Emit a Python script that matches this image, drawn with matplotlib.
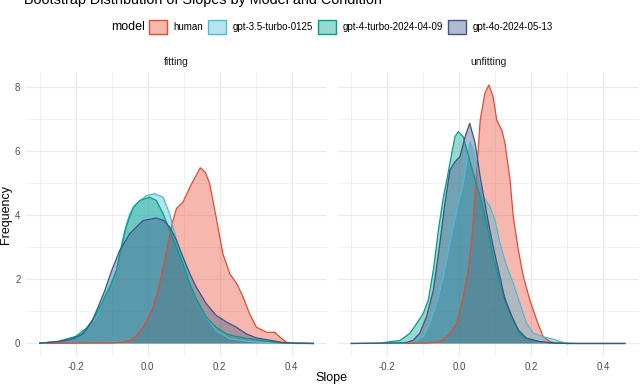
import matplotlib.pyplot as plt
from matplotlib.colors import to_rgb
from matplotlib.patches import Patch

plt.rcParams['font.family'] = ['Liberation Sans Narrow', 'Liberation Sans', 'DejaVu Sans']

models = ["human", "gpt-3.5-turbo-0125", "gpt-4-turbo-2024-04-09", "gpt-4o-2024-05-13"]
colors = ["#E64B35", "#4DBBD5", "#00A087", "#3C5488"]
conditions = ["fitting", "unfitting"]

# density curves (slope, density)
fit_human_x = [-0.28, -0.2, -0.1, -0.08, -0.05, -0.031, -0.013, 0.0, 0.015, 0.029, 0.043, 0.056, 0.07, 0.08,
               0.098, 0.12, 0.146, 0.16, 0.172, 0.19, 0.209, 0.228, 0.248, 0.265, 0.283, 0.302, 0.33, 0.353,
               0.367, 0.385, 0.41, 0.46]
fit_human_y = [0.0, 0.01, 0.02, 0.03, 0.09, 0.25, 0.51, 0.78, 1.13, 1.66, 2.38, 3.1, 3.84, 4.22,
               4.42, 4.95, 5.49, 5.35, 5.0, 3.95, 2.8, 2.18, 1.86, 1.45, 0.93, 0.51, 0.35, 0.35,
               0.2, 0.04, 0.0, 0.0]

fit_gpt35_x = [-0.3, -0.25, -0.2, -0.17, -0.143, -0.115, -0.1, -0.087, -0.078, -0.064, -0.05, -0.031, -0.004,
               0.019, 0.043, 0.061, 0.07, 0.089, 0.107, 0.126, 0.144, 0.163, 0.19, 0.228, 0.256, 0.3, 0.35,
               0.4, 0.46]
fit_gpt35_y = [0.01, 0.06, 0.2, 0.45, 0.82, 1.6, 1.95, 2.28, 2.8, 3.53, 4.05, 4.36, 4.62,
               4.68, 4.57, 4.05, 3.64, 2.9, 2.28, 1.66, 1.24, 0.82, 0.4, 0.15, 0.1, 0.05, 0.02,
               0.01, 0.0]

fit_gpt4t_x = [-0.3, -0.25, -0.2, -0.17, -0.143, -0.115, -0.105, -0.087, -0.073, -0.06, -0.04, -0.022, 0.005,
               0.024, 0.043, 0.061, 0.08, 0.098, 0.117, 0.135, 0.163, 0.19, 0.219, 0.246, 0.283, 0.33, 0.37,
               0.41, 0.46]
fit_gpt4t_y = [0.01, 0.06, 0.22, 0.48, 0.9, 1.55, 1.75, 2.28, 3.0, 3.64, 4.26, 4.47, 4.57,
               4.47, 4.05, 3.53, 3.0, 2.5, 1.87, 1.4, 0.82, 0.51, 0.3, 0.22, 0.15, 0.07, 0.02,
               0.01, 0.0]

fit_gpt4o_x = [-0.3, -0.244, -0.207, -0.18, -0.156, -0.138, -0.119, -0.1, -0.078, -0.05, -0.013, 0.024, 0.045,
               0.061, 0.08, 0.098, 0.117, 0.135, 0.163, 0.19, 0.219, 0.246, 0.274, 0.3, 0.34, 0.376, 0.41, 0.46]
fit_gpt4o_y = [0.01, 0.06, 0.15, 0.3, 0.66, 1.13, 1.66, 2.28, 2.9, 3.43, 3.84, 3.92, 3.84,
               3.64, 3.22, 2.7, 2.18, 1.76, 1.24, 0.88, 0.67, 0.51, 0.3, 0.18, 0.1, 0.03, 0.01, 0.0]

unfit_human_x = [-0.15, -0.08, -0.05, -0.026, -0.007, 0.011, 0.025, 0.035, 0.045, 0.058, 0.071, 0.082, 0.094,
                 0.104, 0.118, 0.127, 0.141, 0.15, 0.164, 0.178, 0.196, 0.215, 0.233, 0.252, 0.27, 0.3]
unfit_human_y = [0.0, 0.02, 0.08, 0.32, 0.63, 1.46, 2.3, 3.3, 4.8, 6.98, 7.82, 8.08, 7.71,
                 6.98, 6.67, 6.26, 5.11, 3.96, 2.92, 2.09, 1.36, 0.73, 0.21, 0.06, 0.01, 0.0]

unfit_gpt35_x = [-0.2, -0.15, -0.12, -0.1, -0.082, -0.063, -0.044, -0.026, -0.007, 0.011, 0.022, 0.03, 0.039,
                 0.053, 0.067, 0.085, 0.099, 0.113, 0.132, 0.15, 0.168, 0.187, 0.206, 0.233, 0.261, 0.289,
                 0.32, 0.46]
unfit_gpt35_y = [0.0, 0.02, 0.08, 0.21, 0.63, 1.26, 2.09, 3.13, 4.17, 5.0, 5.8, 6.3, 6.05,
                 5.32, 4.59, 4.28, 3.86, 3.13, 2.4, 1.88, 1.26, 0.63, 0.32, 0.21, 0.13, 0.03,
                 0.0, 0.0]

unfit_gpt4t_x = [-0.3, -0.22, -0.19, -0.165, -0.137, -0.118, -0.1, -0.086, -0.072, -0.058, -0.044, -0.033,
                 -0.021, -0.012, -0.003, 0.011, 0.021, 0.039, 0.058, 0.076, 0.094, 0.113, 0.132, 0.15, 0.168,
                 0.187, 0.215, 0.25, 0.3, 0.46]
unfit_gpt4t_y = [0.0, 0.01, 0.06, 0.09, 0.32, 0.63, 0.94, 1.36, 2.3, 3.55, 4.59, 5.21,
                 5.94, 6.46, 6.62, 6.46, 6.05, 5.32, 4.59, 3.76, 2.71, 1.88, 1.26, 0.73, 0.32,
                 0.16, 0.06, 0.02, 0.0, 0.0]

unfit_gpt4o_x = [-0.3, -0.15, -0.128, -0.11, -0.091, -0.072, -0.054, -0.04, -0.026, -0.012, 0.002, 0.016,
                 0.029, 0.044, 0.058, 0.076, 0.094, 0.113, 0.127, 0.146, 0.164, 0.187, 0.224, 0.26, 0.3, 0.46]
unfit_gpt4o_y = [0.0, 0.02, 0.1, 0.32, 0.84, 1.67, 3.13, 4.38, 5.42, 5.68, 5.84, 6.46,
                 6.88, 6.26, 5.21, 4.07, 3.03, 2.09, 1.36, 0.84, 0.42, 0.16, 0.06, 0.02, 0.0, 0.0]

curves = {
    "fitting": [(fit_human_x, fit_human_y), (fit_gpt35_x, fit_gpt35_y),
                (fit_gpt4t_x, fit_gpt4t_y), (fit_gpt4o_x, fit_gpt4o_y)],
    "unfitting": [(unfit_human_x, unfit_human_y), (unfit_gpt35_x, unfit_gpt35_y),
                  (unfit_gpt4t_x, unfit_gpt4t_y), (unfit_gpt4o_x, unfit_gpt4o_y)],
}

x_ticks = [-0.2, 0.0, 0.2, 0.4]
x_minor = [-0.3, -0.1, 0.1, 0.3]
y_ticks = [0, 2, 4, 6, 8]
y_minor = [1, 3, 5, 7]

W, H = 640, 384
fig = plt.figure(figsize=(6.4, 3.84), dpi=100)
bottom = 1 - 356.4 / H
height = 284.4 / H
ax_l = fig.add_axes([26 / W, bottom, 301 / W, height])
ax_r = fig.add_axes([337.6 / W, bottom, 301 / W, height])

for ax, cond in zip([ax_l, ax_r], conditions):
    for (xs, ys), col in zip(curves[cond], colors):
        ax.fill_between(xs, 0, ys, facecolor=col, alpha=0.4, linewidth=0, zorder=2)
        ax.plot(xs, ys, color=col, lw=0.9, zorder=3)
    ax.set_xlim(-0.338, 0.498)
    ax.set_ylim(-0.404, 8.484)
    ax.set_xticks(x_ticks)
    ax.set_xticklabels(["-0.2", "0.0", "0.2", "0.4"])
    ax.set_xticks(x_minor, minor=True)
    ax.set_yticks(y_ticks)
    ax.set_yticks(y_minor, minor=True)
    ax.grid(which="major", color="#EBEBEB", lw=0.9, zorder=0)
    ax.grid(which="minor", color="#EBEBEB", lw=0.5, zorder=0)
    ax.set_axisbelow(True)
    for s in ax.spines.values():
        s.set_visible(False)
    ax.tick_params(which="both", length=0, labelsize=7, labelcolor="#4D4D4D", pad=4)
    ax.set_title(cond, fontsize=7.5, color="#1A1A1A", pad=5)

ax_r.tick_params(labelleft=False)

# title is clipped at the top edge, as in the reference
fig.text(24 / W, 1 - 4 / H, "Bootstrap Distribution of Slopes by Model and Condition",
         fontsize=10.4, ha="left", va="baseline", color="black")
fig.text(331 / W, 1 - 378 / H, "Slope", fontsize=9, ha="center", va="center")
fig.text(6 / W, 1 - 215 / H, "Frequency", fontsize=9, ha="center", va="center", rotation=90)
fig.text(111 / W, 1 - 27 / H, "model", fontsize=9, ha="left", va="center")

handles = [Patch(facecolor=(*to_rgb(c), 0.4), edgecolor=c, lw=1.0) for c in colors]
fig.legend(handles, models, loc="center left", bbox_to_anchor=(149 / W, 1 - 27 / H), ncol=4,
           frameon=False, fontsize=7, handlelength=1.85, handleheight=1.85, handletextpad=0.7,
           columnspacing=0.5, borderpad=0, borderaxespad=0)

fig.savefig("out.png", dpi=100)
